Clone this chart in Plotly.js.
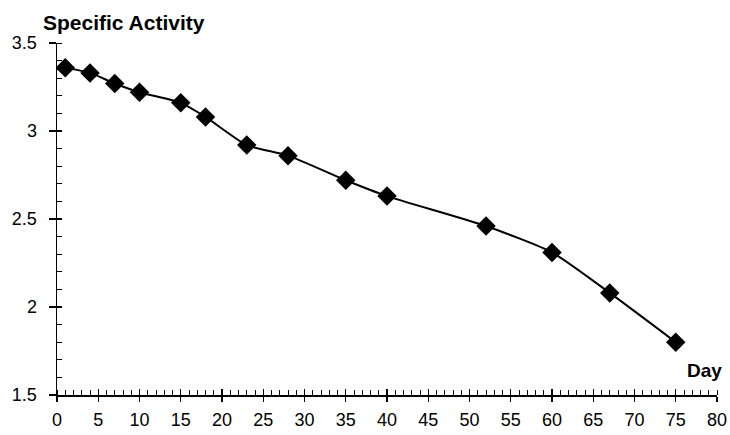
<!DOCTYPE html>
<html>
<head>
<meta charset="utf-8">
<script src="https://cdn.plot.ly/plotly-3.0.1.min.js"></script>
<style>html,body{margin:0;padding:0;background:#fff;}#chart{width:730px;height:435px;}</style>
</head>
<body>
<div id="chart"></div>
<script>
const days = [1, 4, 7, 10, 15, 18, 23, 28, 35, 40, 52, 60, 67, 75];
const activity = [3.36, 3.33, 3.27, 3.22, 3.16, 3.08, 2.92, 2.86, 2.72, 2.63, 2.46, 2.31, 2.08, 1.80];
const xTickVals = [0, 5, 10, 15, 20, 25, 30, 35, 40, 45, 50, 55, 60, 65, 70, 75, 80];
const yTickVals = [1.5, 2, 2.5, 3, 3.5];
const yTickText = ["1.5", "2", "2.5", "3", "3.5"];

const font = {family: "Liberation Sans, Arial, sans-serif", color: "#000"};

const trace = {
  x: days, y: activity, type: "scatter", mode: "lines+markers",
  line: {color: "#000", width: 2, shape: "spline", smoothing: 0.6},
  marker: {symbol: "diamond", size: 15, color: "#000"},
  hoverinfo: "skip", showlegend: false
};

const layout = {
  width: 730, height: 435,
  margin: {l: 57, r: 13, t: 43, b: 40},
  paper_bgcolor: "#fff", plot_bgcolor: "#fff",
  font: Object.assign({size: 18}, font),
  xaxis: {
    range: [0, 80], showgrid: false, zeroline: false,
    showline: true, linecolor: "#000", linewidth: 1.5,
    tickmode: "array", tickvals: xTickVals, ticktext: xTickVals.map(String),
    ticks: "outside", ticklen: 5, tickwidth: 1.3, tickcolor: "#000",
    ticklabelstandoff: 3,
    tickfont: Object.assign({size: 18}, font),
    minor: {dtick: 1, tick0: 0, ticks: "inside", ticklen: 5, tickwidth: 1, tickcolor: "#000", showgrid: false}
  },
  xaxis2: {
    range: [0, 80], overlaying: "x", anchor: "y", showgrid: false, zeroline: false,
    tickmode: "array", tickvals: xTickVals, showticklabels: false,
    ticks: "inside", ticklen: 6, tickwidth: 1.3, tickcolor: "#000"
  },
  yaxis: {
    range: [1.5, 3.5], showgrid: false, zeroline: false,
    showline: true, linecolor: "#000", linewidth: 1.5,
    tickmode: "array", tickvals: yTickVals, ticktext: yTickText,
    ticks: "outside", ticklen: 7, tickwidth: 1.3, tickcolor: "#000",
    ticklabelstandoff: 8,
    tickfont: Object.assign({size: 18}, font),
    minor: {dtick: 0.1, tick0: 1.5, ticks: "inside", ticklen: 5, tickwidth: 1, tickcolor: "#000", showgrid: false}
  },
  yaxis2: {
    range: [1.5, 3.5], overlaying: "y", anchor: "x", showgrid: false, zeroline: false,
    tickmode: "array", tickvals: yTickVals, showticklabels: false,
    ticks: "inside", ticklen: 5, tickwidth: 1.3, tickcolor: "#000"
  },
  annotations: [
    {text: "<b>Specific Activity</b>", xref: "paper", yref: "paper", x: -0.024, y: 1.057,
     xanchor: "left", yanchor: "middle", showarrow: false, font: Object.assign({size: 21}, font)},
    {text: "<b>Day</b>", xref: "paper", yref: "paper", x: 1.01, y: 0.071,
     xanchor: "right", yanchor: "middle", showarrow: false, font: Object.assign({size: 19}, font)}
  ]
};

const dummy = {x: [0], y: [1.5], xaxis: "x2", yaxis: "y2", type: "scatter", mode: "markers",
  marker: {opacity: 0}, hoverinfo: "skip", showlegend: false};

Plotly.newPlot("chart", [trace, dummy], layout, {staticPlot: true, displayModeBar: false});
</script>
</body>
</html>
